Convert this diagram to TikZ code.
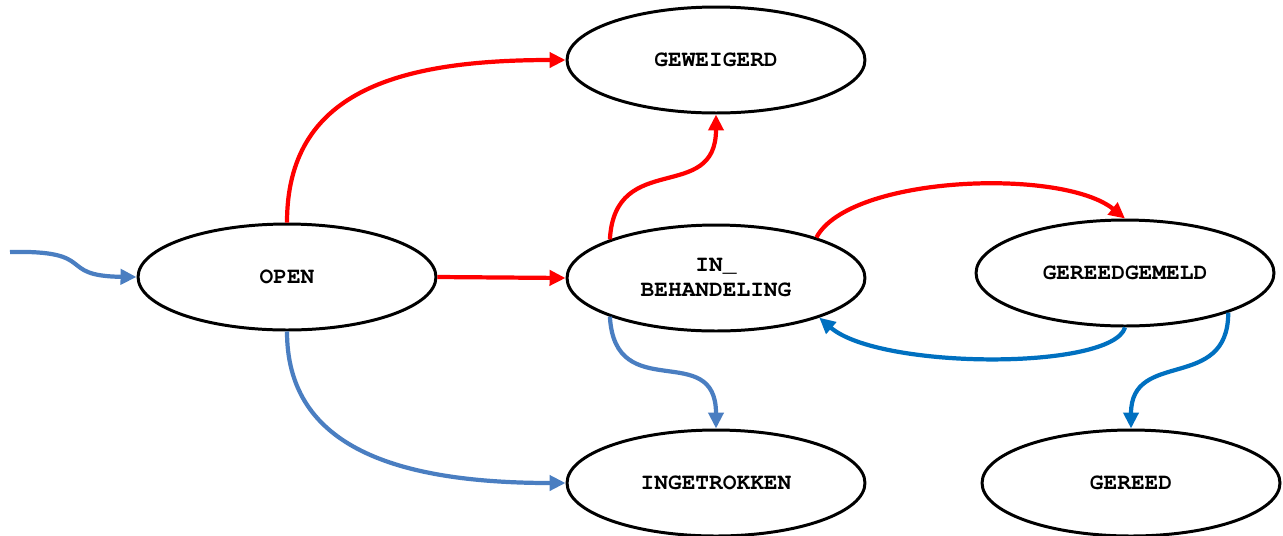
\documentclass[tikz,border=0pt]{standalone}
\definecolor{flowred}{RGB}{255, 0, 0}
\definecolor{flowblue}{RGB}{74, 126, 193}
\definecolor{backblue}{RGB}{0, 112, 192}
\usepackage{fontspec}
\setmonofont{Liberation Mono}
\usepackage{tikz}
\usetikzlibrary{shapes, arrows.meta, positioning, calc}

\begin{document}
\begin{tikzpicture}[x=0.02cm, y=-0.02cm,
  state/.style={draw=black, line width=1.7pt, ellipse, minimum width=5.96cm, minimum height=2.12cm,
    inner sep=0pt, align=center, font=\fontencoding{T1}\fontfamily{pcr}\fontseries{b}\fontsize{13}{14.5}\selectfont},
  flow/.style={line width=2.4pt, -{Triangle[length=0.32cm, width=0.3cm]}},
  redflow/.style={flow, draw=flowred},
  blueflow/.style={flow, draw=flowblue},
  backflow/.style={flow, draw=backblue}]
  \useasboundingbox (0,0) rectangle (1283,535);

  % states
  \node[state] (open) at (287,277) {OPEN};
  \node[state] (geweigerd) at (716,60) {GEWEIGERD};
  \node[state] (inbeh) at (716,278) {IN\_\\BEHANDELING};
  \node[state] (gereedgemeld) at (1125,273) {GEREEDGEMELD};
  \node[state] (ingetrokken) at (716,483) {INGETROKKEN};
  \node[state] (gereed) at (1131,483) {GEREED};

  % start
  \coordinate (start) at (10,252);
  \draw[blueflow] (start) .. controls (100,250) and (55,276) .. (open.west);

  % transitions
  \draw[redflow] (open.north) .. controls +(0,-130) and +(-170,0) .. (geweigerd.west);
  \draw[redflow] (open.east) -- (inbeh.west);
  \draw[blueflow] (open.south) .. controls +(0,110) and +(-180,0) .. (ingetrokken.west);
  \draw[redflow] (inbeh.160) .. controls +(5,-90) and +(0,90) .. (geweigerd.south);
  \draw[blueflow] (inbeh.200) .. controls +(5,90) and +(0,-90) .. (ingetrokken.north);
  \draw[redflow] (inbeh.22) .. controls +(33,-62) and +(-63,-51) .. (gereedgemeld.north);
  \draw[backflow] (gereedgemeld.south) .. controls +(-13,43) and +(60,52) .. (inbeh.339);
  \draw[backflow] (gereedgemeld.339) .. controls +(0,80) and +(0,-80) .. (gereed.north);
\end{tikzpicture}
\end{document}
